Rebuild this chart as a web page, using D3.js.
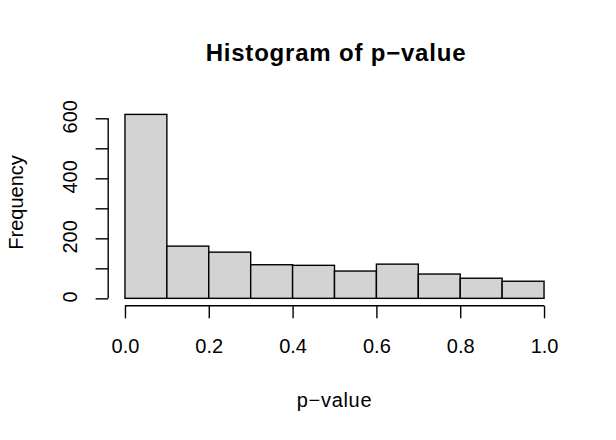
<!DOCTYPE html>
<html>
<head>
<meta charset="utf-8">
<script src="https://cdn.jsdelivr.net/npm/d3@7"></script>
<style>
  html, body { margin: 0; padding: 0; background: #ffffff; }
  svg { display: block; font-family: "Liberation Sans", Arial, Helvetica, sans-serif; }
</style>
</head>
<body>
<svg id="chart" width="616" height="440"></svg>
<script>
// ---- data ----
const binStarts = [0.0, 0.1, 0.2, 0.3, 0.4, 0.5, 0.6, 0.7, 0.8, 0.9];
const binEnds   = [0.1, 0.2, 0.3, 0.4, 0.5, 0.6, 0.7, 0.8, 0.9, 1.0];
const counts    = [613, 174, 154, 112, 110, 91, 114, 81, 67, 57];
const xTickValues = [0.0, 0.2, 0.4, 0.6, 0.8, 1.0];
const xTickLabels = ["0.0", "0.2", "0.4", "0.6", "0.8", "1.0"];
const yTickValues = [0, 100, 200, 300, 400, 500, 600];
const yLabelValues = [0, 200, 400, 600];
const titleText = "Histogram of p\u2212value";
const xLabelText = "p\u2212value";
const yLabelText = "Frequency";

// ---- layout ----
const svg = d3.select("#chart");
const plot = { left: 108.2, right: 560.8, top: 107.05, bottom: 305.7 };
const xmin = 0, xmax = 1;
const ymax = d3.max(counts);
const x = d3.scaleLinear()
  .domain([xmin - 0.04 * (xmax - xmin), xmax + 0.04 * (xmax - xmin)])
  .range([plot.left, plot.right]);
const y = d3.scaleLinear()
  .domain([-0.04 * ymax, ymax * 1.04])
  .range([plot.bottom, plot.top]);

const bins = counts.map((c, i) => ({ x0: binStarts[i], x1: binEnds[i], n: c }));

// bars
svg.append("g").selectAll("rect")
  .data(bins)
  .enter().append("rect")
  .attr("x", d => x(d.x0))
  .attr("y", d => y(d.n))
  .attr("width", d => x(d.x1) - x(d.x0))
  .attr("height", d => y(0) - y(d.n))
  .attr("fill", "#d3d3d3")
  .attr("stroke", "#000")
  .attr("stroke-width", 1.4);

// x axis
const xAxis = svg.append("g")
  .attr("transform", `translate(0,${plot.bottom})`)
  .call(d3.axisBottom(x)
    .tickValues(xTickValues)
    .tickFormat((d, i) => xTickLabels[i])
    .tickSize(12.6)
    .tickSizeOuter(0));
xAxis.select(".domain").remove();
xAxis.append("line")
  .attr("x1", x(xTickValues[0])).attr("x2", x(xTickValues[xTickValues.length - 1]))
  .attr("y1", 0).attr("y2", 0)
  .attr("stroke", "#000").attr("stroke-width", 1.4);
xAxis.selectAll(".tick line").attr("stroke", "#000").attr("stroke-width", 1.4);
xAxis.selectAll(".tick text")
  .attr("y", 47.3).attr("dy", 0)
  .attr("font-size", 20).attr("fill", "#000")
  .attr("font-family", "Liberation Sans, Arial, sans-serif");

// y axis
const yAxis = svg.append("g")
  .attr("transform", `translate(${plot.left},0)`)
  .call(d3.axisLeft(y)
    .tickValues(yTickValues)
    .tickFormat(d => yLabelValues.includes(d) ? String(d) : "")
    .tickSize(12.6)
    .tickSizeOuter(0));
yAxis.select(".domain").remove();
yAxis.append("line")
  .attr("x1", 0).attr("x2", 0)
  .attr("y1", y(yTickValues[0])).attr("y2", y(yTickValues[yTickValues.length - 1]))
  .attr("stroke", "#000").attr("stroke-width", 1.4);
yAxis.selectAll(".tick line").attr("stroke", "#000").attr("stroke-width", 1.4);
yAxis.selectAll(".tick text")
  .attr("x", 0).attr("y", 0).attr("dy", 0)
  .attr("transform", "translate(-31,-2) rotate(-90)")
  .attr("text-anchor", "middle")
  .attr("font-size", 20).attr("fill", "#000")
  .attr("font-family", "Liberation Sans, Arial, sans-serif");

// title
svg.append("text")
  .attr("x", (plot.left + plot.right) / 2 + 1.5)
  .attr("y", 61)
  .attr("text-anchor", "middle")
  .attr("font-size", 24)
  .attr("letter-spacing", "0.8px")
  .attr("font-weight", "bold")
  .text(titleText);

// x label
svg.append("text")
  .attr("x", (plot.left + plot.right) / 2)
  .attr("y", 407)
  .attr("text-anchor", "middle")
  .attr("font-size", 20)
  .attr("letter-spacing", "0.7px")
  .text(xLabelText);

// y label
svg.append("text")
  .attr("transform", `translate(23,${(plot.top + plot.bottom) / 2 - 4}) rotate(-90)`)
  .attr("text-anchor", "middle")
  .attr("font-size", 20)
  .text(yLabelText);
</script>
</body>
</html>
